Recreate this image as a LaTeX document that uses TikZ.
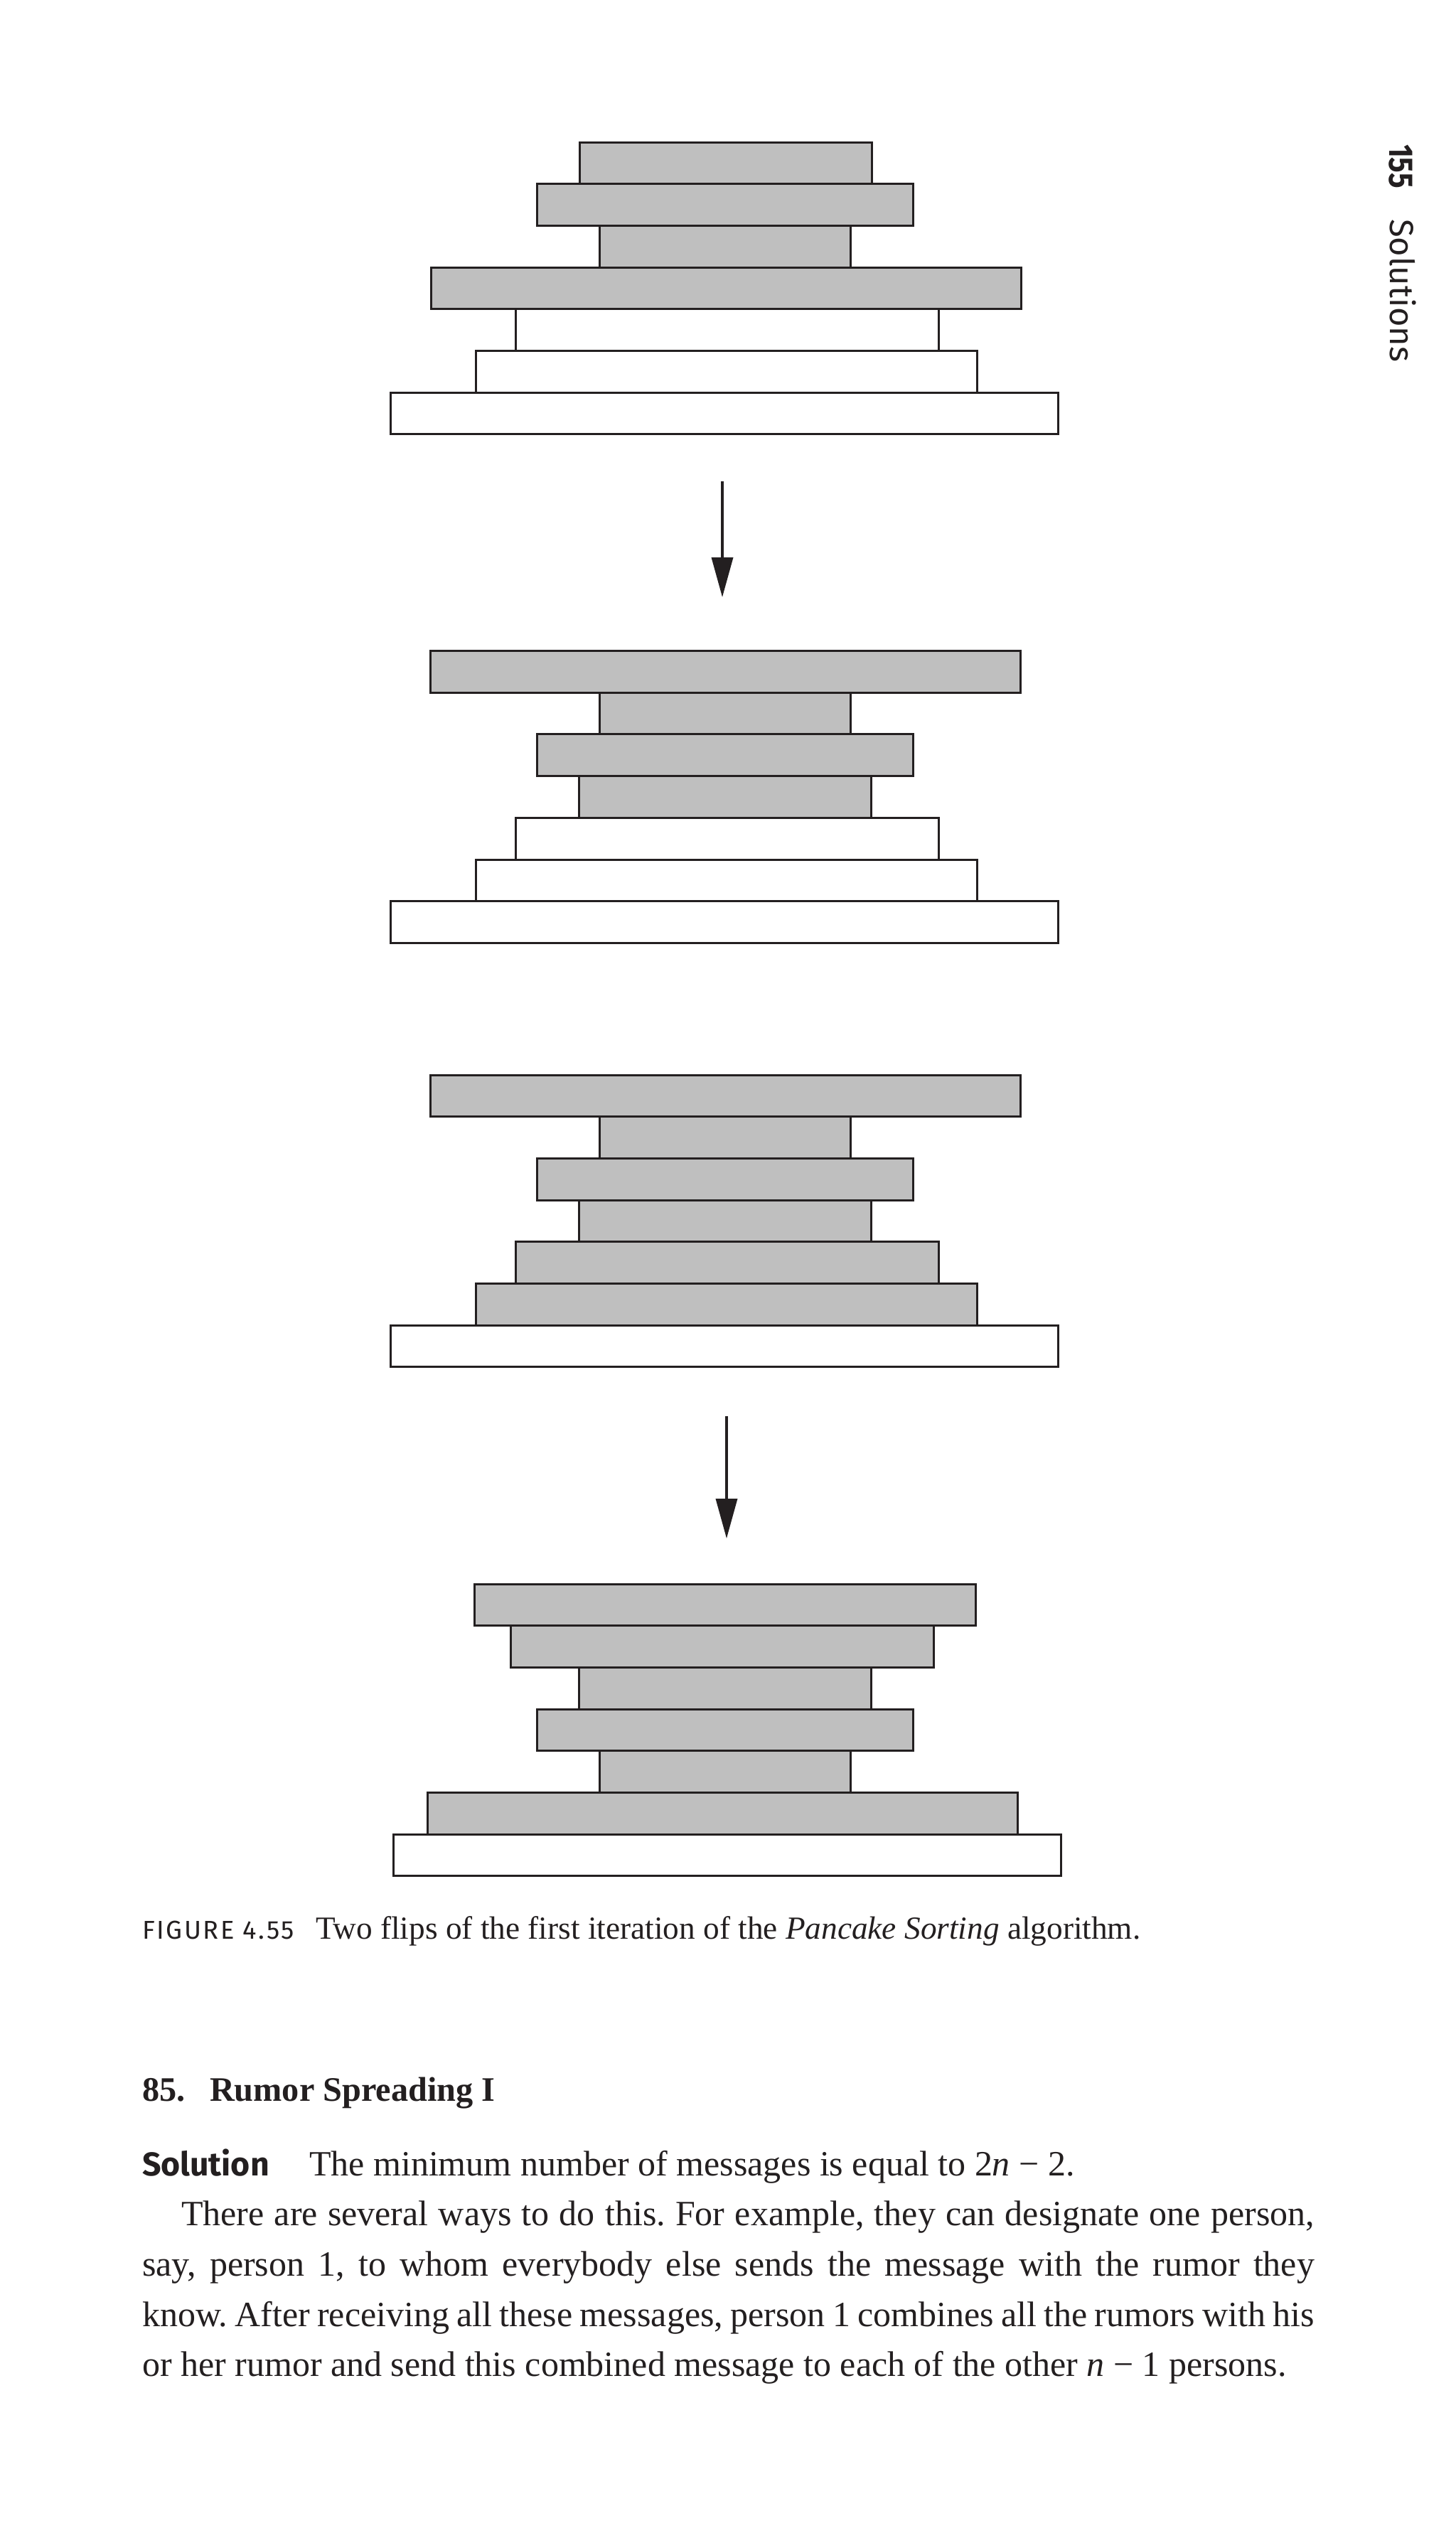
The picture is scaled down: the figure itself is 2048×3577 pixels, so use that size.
\documentclass[tikz,border=0pt]{standalone}
\usepackage{fontspec}
\setmainfont{Liberation Serif}
\newfontfamily\labelsans[LetterSpace=7]{Fira Sans}
\newfontfamily\numsans[FakeStretch=0.84]{Fira Sans}
\newfontfamily\solsans{Fira Sans}
\usetikzlibrary{arrows.meta}
\definecolor{cakegray}{RGB}{191,191,191}
\definecolor{ink}{RGB}{35,31,32}

\begin{document}
\begin{tikzpicture}[x=1pt,y=-1pt]
\tikzstyle{cake} = [draw=ink,line width=3pt,inner sep=0pt,outer sep=0pt,minimum height=58.7pt];
\tikzstyle{cakeg} = [cake,fill=cakegray];
\tikzstyle{cakew} = [cake,fill=white];
\tikzstyle{fliparrow} = [draw=ink,line width=3.5pt,-{Triangle[length=56pt,width=30pt]}];
\tikzstyle{pagetext} = [inner sep=0pt,outer sep=0pt,text=ink];
\fill [white] (0,0) rectangle (2048,3577);
\useasboundingbox (0,0) rectangle (2048,3577);

% stack before the first flip
\node [cakeg,minimum width=411pt] (a1) at (1021,229.35) {};
\node [cakeg,minimum width=529pt] (a2) at (1020,288.05) {};
\node [cakeg,minimum width=353pt] (a3) at (1020,346.75) {};
\node [cakeg,minimum width=830pt] (a4) at (1021,405.45) {};
\node [cakew,minimum width=595pt] (a5) at (1023,464.15) {};
\node [cakew,minimum width=705pt] (a6) at (1021.5,522.85) {};
\node [cakew,minimum width=939pt] (a7) at (1018.5,581.55) {};

\coordinate (f1top) at (1016,677);
\coordinate (f1tip) at (1016,840);
\draw [fliparrow] (f1top) -- (f1tip);

% after the first flip
\node [cakeg,minimum width=830pt] (b1) at (1020,944.85) {};
\node [cakeg,minimum width=353pt] (b2) at (1020,1003.55) {};
\node [cakeg,minimum width=529pt] (b3) at (1019.5,1062.25) {};
\node [cakeg,minimum width=411pt] (b4) at (1020,1120.95) {};
\node [cakew,minimum width=595pt] (b5) at (1023,1179.65) {};
\node [cakew,minimum width=705pt] (b6) at (1021.5,1238.35) {};
\node [cakew,minimum width=939pt] (b7) at (1018.5,1297.05) {};

% second flip, before
\node [cakeg,minimum width=830pt] (c1) at (1020,1541.35) {};
\node [cakeg,minimum width=353pt] (c2) at (1020,1600.05) {};
\node [cakeg,minimum width=529pt] (c3) at (1019.5,1658.75) {};
\node [cakeg,minimum width=411pt] (c4) at (1020,1717.45) {};
\node [cakeg,minimum width=595pt] (c5) at (1023,1776.15) {};
\node [cakeg,minimum width=705pt] (c6) at (1021.5,1834.85) {};
\node [cakew,minimum width=939pt] (c7) at (1018.5,1893.55) {};

\coordinate (f2top) at (1022,1992);
\coordinate (f2tip) at (1022,2164);
\draw [fliparrow] (f2top) -- (f2tip);

% after the second flip
\node [cakeg,minimum width=705pt] (d1) at (1019.5,2257.35) {};
\node [cakeg,minimum width=595pt] (d2) at (1016,2316.05) {};
\node [cakeg,minimum width=411pt] (d3) at (1020,2374.75) {};
\node [cakeg,minimum width=529pt] (d4) at (1019.5,2433.45) {};
\node [cakeg,minimum width=353pt] (d5) at (1020,2492.15) {};
\node [cakeg,minimum width=830pt] (d6) at (1016.5,2550.85) {};
\node [cakew,minimum width=939pt] (d7) at (1022.5,2609.55) {};

% running head
\node [pagetext,anchor=base west,rotate=-90] (pagenum) at (1954,203) {\numsans\bfseries\fontsize{48}{50}\selectfont 155};
\node [pagetext,anchor=base west,rotate=-90] (runhead) at (1955,308) {\solsans\fontsize{47}{50}\selectfont Solutions};

% caption
\node [pagetext,anchor=base west] (figlabel) at (200,2727) {\labelsans\fontsize{36.3}{40}\selectfont FIGURE 4.55};
\node [pagetext,anchor=base west] (figcaption) at (444,2727) {\fontsize{45.3}{50}\selectfont Two flips of the first iteration of the \textit{Pancake Sorting} algorithm.};

% problem heading and solution
\node [pagetext,anchor=base west] (probnum) at (200,2955) {\fontsize{48.3}{50}\selectfont\bfseries 85.};
\node [pagetext,anchor=base west] (probtitle) at (295,2955) {\fontsize{48.3}{50}\selectfont\bfseries Rumor Spreading I};
\node [pagetext,anchor=base west,text width=1649pt,align=justify,font={\fontsize{50}{70.7}\selectfont}] (solution) at (200,3060) {\frenchspacing\hyphenpenalty=10000\tolerance=10000
\makebox[235pt][l]{\solsans\bfseries\fontsize{46.4}{70.7}\selectfont Solution}The minimum number of messages is equal to 2\textit{n} − 2.\par
\hspace*{55pt}There are several ways to do this. For example, they can designate one person,\linebreak
say, person 1, to whom everybody else sends the message with the rumor they\linebreak
know. After receiving all these messages, person 1 combines all the rumors with his\linebreak
or her rumor and send this combined message to each of the other \textit{n} − 1 persons.\par};
\end{tikzpicture}
\end{document}
